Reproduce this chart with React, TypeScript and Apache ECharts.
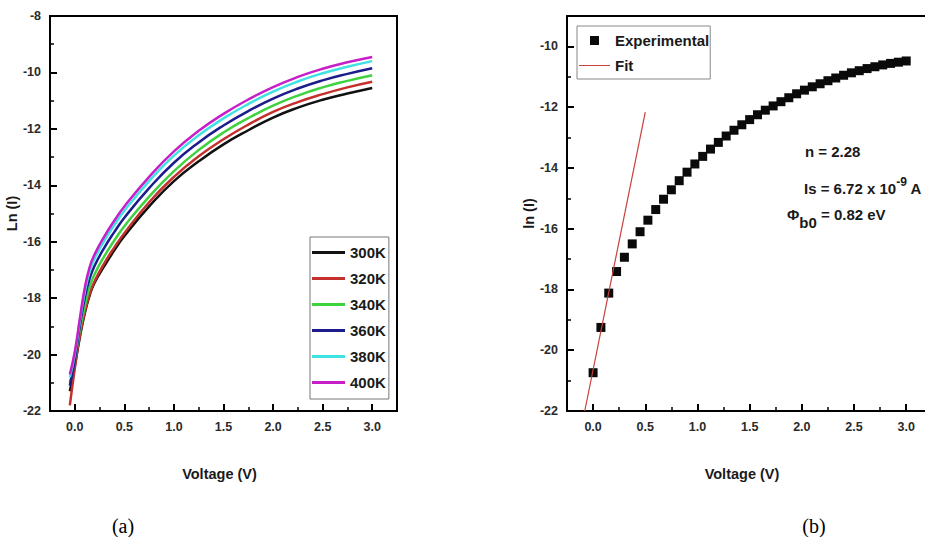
import { useEffect, useRef } from "react";
import * as echarts from "echarts";

// ---------- Panel (a): ln(I)-V at several temperatures ----------
const voltageA = [-0.05, 0, 0.05, 0.1, 0.15, 0.2, 0.3, 0.4, 0.5, 0.75, 1.0, 1.25, 1.5, 1.75, 2.0, 2.25, 2.5, 2.75, 3.0];
const ln300 = [-21.3, -20.4, -19.4, -18.55, -17.9, -17.45, -16.85, -16.3, -15.8, -14.75, -13.85, -13.15, -12.55, -12.05, -11.6, -11.25, -10.97, -10.75, -10.55];
const ln320 = [-21.8, -20.5, -19.35, -18.5, -17.85, -17.4, -16.75, -16.2, -15.7, -14.6, -13.7, -12.97, -12.37, -11.85, -11.4, -11.05, -10.77, -10.53, -10.33];
const ln340 = [-21.0, -20.2, -19.15, -18.3, -17.6, -17.15, -16.5, -15.95, -15.45, -14.4, -13.5, -12.75, -12.13, -11.62, -11.18, -10.82, -10.53, -10.3, -10.1];
const ln360 = [-21.1, -20.2, -19.0, -18.0, -17.3, -16.85, -16.2, -15.65, -15.15, -14.1, -13.2, -12.48, -11.88, -11.37, -10.93, -10.57, -10.28, -10.05, -9.85];
const ln380 = [-20.8, -20.0, -18.85, -17.8, -17.05, -16.6, -15.95, -15.4, -14.9, -13.85, -12.95, -12.23, -11.63, -11.12, -10.68, -10.32, -10.03, -9.8, -9.6];
const ln400 = [-20.7, -19.9, -18.75, -17.65, -16.9, -16.45, -15.8, -15.25, -14.75, -13.7, -12.8, -12.07, -11.47, -10.96, -10.52, -10.16, -9.87, -9.64, -9.45];
const tempNames = ["300K", "320K", "340K", "360K", "380K", "400K"];
const tempColors = ["#111111", "#c4302b", "#3ed23e", "#1c1c8c", "#3fe2e2", "#c81ec8"];

// ---------- Panel (b): experimental points + linear fit ----------
const voltageB = [0, 0.075, 0.15, 0.225, 0.3, 0.375, 0.45, 0.525, 0.6, 0.675, 0.75, 0.825, 0.9, 0.975, 1.05, 1.125, 1.2, 1.275, 1.35, 1.425, 1.5, 1.575, 1.65, 1.725, 1.8, 1.875, 1.95, 2.025, 2.1, 2.175, 2.25, 2.325, 2.4, 2.475, 2.55, 2.625, 2.7, 2.775, 2.85, 2.925, 3.0];
const lnExp = [-20.74, -19.25, -18.12, -17.41, -16.94, -16.5, -16.1, -15.72, -15.37, -15.03, -14.72, -14.42, -14.14, -13.87, -13.62, -13.38, -13.16, -12.95, -12.76, -12.58, -12.41, -12.25, -12.1, -11.96, -11.82, -11.69, -11.56, -11.44, -11.33, -11.23, -11.13, -11.04, -10.95, -10.87, -10.8, -10.73, -10.67, -10.61, -10.56, -10.52, -10.48];
const fitV = [-0.08, 0.5];
const fitLn = [-22, -12.16];

// ---------- tick labels ----------
const xMajor = [0, 0.5, 1, 1.5, 2, 2.5, 3];
const xMinor = [0.25, 0.75, 1.25, 1.75, 2.25, 2.75];
const yMajorA = [-22, -20, -18, -16, -14, -12, -10, -8];
const yMinorA = [-21, -19, -17, -15, -13, -11, -9];
const yMajorB = [-22, -20, -18, -16, -14, -12, -10];
const yMinorB = [-21, -19, -17, -15, -13, -11, -9];

const SANS = "'Liberation Sans', Arial, Helvetica, sans-serif";
const INK = "#1a1a1a";

function majorAxis(kind: "x" | "y", grid: number, min: number, max: number, values: number[], name: string, nameGap: number) {
  return {
    type: "value",
    gridIndex: grid,
    position: kind === "x" ? "bottom" : "left",
    min,
    max,
    name,
    nameLocation: "middle",
    nameGap,
    nameTextStyle: {
      fontFamily: SANS,
      fontWeight: "bold",
      fontSize: 14.5,
      color: INK,
      padding: kind === "x" ? [0, 8, 0, 0] : 0,
    },
    splitLine: { show: false },
    axisLine: { show: true, onZero: false, lineStyle: { color: "#000", width: 2 } },
    axisTick: { show: true, inside: true, length: 7, customValues: values, lineStyle: { color: "#000", width: 2 } },
    axisLabel: {
      show: true,
      customValues: values,
      margin: 9,
      fontFamily: SANS,
      fontWeight: "bold",
      fontSize: 12.5,
      color: "#2a2a2a",
      formatter: (v: number) => (kind === "x" ? v.toFixed(1) : String(v)),
    },
  };
}

function minorAxis(kind: "x" | "y", grid: number, min: number, max: number, values: number[]) {
  return {
    type: "value",
    gridIndex: grid,
    position: kind === "x" ? "bottom" : "left",
    min,
    max,
    splitLine: { show: false },
    axisLine: { show: false, onZero: false },
    axisTick: { show: true, inside: true, length: 4, customValues: values, lineStyle: { color: "#000", width: 1.5 } },
    axisLabel: { show: false, customValues: values },
  };
}

export default function App() {
  const ref = useRef<HTMLDivElement>(null);

  useEffect(() => {
    if (!ref.current) return;
    const chart = echarts.init(ref.current, undefined, { renderer: "svg" });

    const lineSeries = [ln300, ln320, ln340, ln360, ln380, ln400].map((vals, i) => ({
      name: tempNames[i],
      type: "line",
      xAxisIndex: 0,
      yAxisIndex: 0,
      smooth: true,
      showSymbol: false,
      symbol: "none",
      data: voltageA.map((v, j) => [v, vals[j]]),
      lineStyle: { color: tempColors[i], width: 2.5 },
      itemStyle: { color: tempColors[i] },
    }));

    // right panel runs off the page edge: its axis ends at 3.18 V at x = 925
    const xMaxB = 3.18;

    const option = {
      animation: false,
      backgroundColor: "#ffffff",
      grid: [
        { left: 50, top: 16, width: 347, height: 395, show: true, borderColor: "#000", borderWidth: 2, backgroundColor: "transparent" },
        { left: 567, top: 16, right: 0, height: 395, show: false },
      ],
      xAxis: [
        majorAxis("x", 0, -0.25, 3.25, xMajor, "Voltage (V)", 55),
        minorAxis("x", 0, -0.25, 3.25, xMinor),
        majorAxis("x", 1, -0.25, xMaxB, xMajor, "Voltage (V)", 55),
        minorAxis("x", 1, -0.25, xMaxB, xMinor),
        {
          type: "value",
          gridIndex: 1,
          position: "top",
          min: -0.25,
          max: xMaxB,
          splitLine: { show: false },
          axisLine: { show: true, onZero: false, lineStyle: { color: "#000", width: 2 } },
          axisTick: { show: false },
          axisLabel: { show: false },
        },
      ],
      yAxis: [
        majorAxis("y", 0, -22, -8, yMajorA, "Ln (I)", 27),
        minorAxis("y", 0, -22, -8, yMinorA),
        majorAxis("y", 1, -22, -9, yMajorB, "ln (I)", 27),
        minorAxis("y", 1, -22, -9, yMinorB),
      ],
      legend: [
        {
          data: tempNames,
          orient: "vertical",
          left: 310,
          top: 237,
          padding: [8, 3, 9, 2],
          itemGap: 11,
          itemWidth: 33,
          itemHeight: 3,
          icon: "rect",
          borderColor: "#777",
          borderWidth: 1,
          selectedMode: false,
          textStyle: { fontFamily: SANS, fontWeight: "bold", fontSize: 15, color: INK },
        },
        {
          data: [
            { name: "Experimental", icon: "path://M0 0H10V10H0Z" },
            { name: "Fit", icon: "path://M0 0H31V1H0Z" },
          ],
          orient: "vertical",
          left: 577,
          top: 26,
          padding: [7, 1, 6, 2],
          itemGap: 10,
          itemWidth: 31,
          itemHeight: 9,
          symbolKeepAspect: true,
          borderColor: "#888",
          borderWidth: 1,
          selectedMode: false,
          textStyle: { fontFamily: SANS, fontWeight: "bold", fontSize: 15, color: INK },
        },
      ],
      series: [
        ...lineSeries,
        {
          name: "Experimental",
          type: "scatter",
          xAxisIndex: 2,
          yAxisIndex: 2,
          symbol: "rect",
          symbolSize: 9,
          data: voltageB.map((v, j) => [v, lnExp[j]]),
          itemStyle: { color: "#0a0a0a", opacity: 1 },
          z: 2,
        },
        {
          name: "Fit",
          type: "line",
          xAxisIndex: 2,
          yAxisIndex: 2,
          showSymbol: false,
          symbol: "none",
          data: fitV.map((v, j) => [v, fitLn[j]]),
          lineStyle: { color: "#c8413c", width: 1.2 },
          itemStyle: { color: "#c8413c" },
          z: 3,
        },
      ],
      graphic: [
        {
          type: "text",
          x: 805,
          y: 151,
          style: { text: "n = 2.28", fill: INK, font: `bold 15px ${SANS}`, verticalAlign: "middle", align: "left" },
        },
        {
          type: "text",
          x: 804,
          y: 196,
          style: {
            text: "{m|Is = 6.72 x 10}{s|-9}{m| A}",
            fill: INK,
            verticalAlign: "bottom",
            align: "left",
            rich: {
              m: { fontFamily: SANS, fontWeight: "bold", fontSize: 15, fill: INK, verticalAlign: "bottom" },
              s: { fontFamily: SANS, fontWeight: "bold", fontSize: 12, fill: INK, verticalAlign: "bottom", padding: [0, 0, 8, 0] },
            },
          },
        },
        {
          type: "text",
          x: 787,
          y: 207,
          style: {
            text: "{m|\u03A6}{b|b0}{m| = 0.82 eV}",
            fill: INK,
            verticalAlign: "top",
            align: "left",
            rich: {
              m: { fontFamily: SANS, fontWeight: "bold", fontSize: 15, fill: INK, verticalAlign: "top" },
              b: { fontFamily: SANS, fontWeight: "bold", fontSize: 15, fill: INK, verticalAlign: "top", padding: [8, 0, 0, 0] },
            },
          },
        },
        {
          type: "text",
          x: 123,
          y: 526,
          style: { text: "(a)", fill: "#000", font: "20px 'Liberation Serif', 'Times New Roman', serif", align: "center", verticalAlign: "middle" },
        },
        {
          type: "text",
          x: 814,
          y: 526,
          style: { text: "(b)", fill: "#000", font: "20px 'Liberation Serif', 'Times New Roman', serif", align: "center", verticalAlign: "middle" },
        },
      ],
    };

    chart.setOption(option as any);
    return () => chart.dispose();
  }, []);

  return (
    <div
      ref={ref}
      style={{ position: "fixed", left: 0, top: 0, width: 925, height: 537, background: "#fff" }}
    />
  );
}
